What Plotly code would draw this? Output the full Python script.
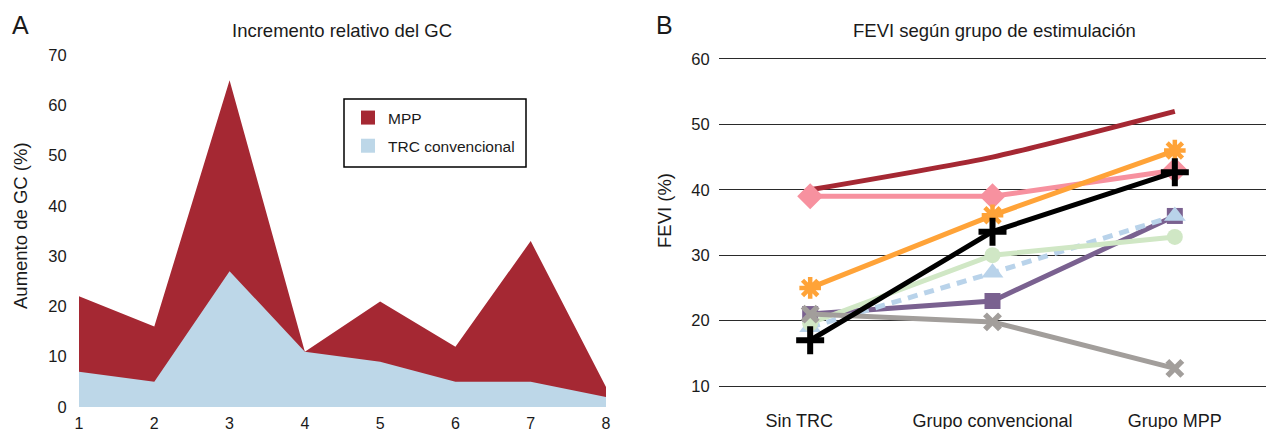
import plotly.graph_objects as go

# ---------------- Panel A data ----------------
patients = [1, 2, 3, 4, 5, 6, 7, 8]
mpp_increase = [22, 16, 65, 11, 21, 12, 33, 4]
trc_increase = [7, 5, 27, 11, 9, 5, 5, 2]

# ---------------- Panel B data ----------------
groups = ["Sin TRC", "Grupo convencional", "Grupo MPP"]
fevi_p1 = [40, 45, 52]        # dark red, no markers
fevi_p2 = [39, 39, 43]        # pink diamond
fevi_p3 = [21, 23, 36]        # purple square
fevi_p4 = [19, 27.3, 36]      # light blue triangle, dashed
fevi_p5 = [19.6, 30, 32.8]    # light green circle
fevi_p6 = [21, 19.8, 12.7]    # gray x
fevi_p7 = [25, 36.1, 46]      # orange asterisk
fevi_p8 = [17, 33.6, 42.7]    # black cross

W, H = 1266, 429
FONT = "Liberation Sans, Arial, sans-serif"
TXT = "#1a1a1a"

def px(x):
    return x / W

def py(y):
    return 1 - y / H

fig = go.Figure()

# Panel A areas (overlapping, not stacked)
fig.add_trace(go.Scatter(x=patients, y=mpp_increase, mode="lines", fill="tozeroy",
                         fillcolor="#A52833", line=dict(width=0, color="#A52833"),
                         showlegend=False, hoverinfo="skip", xaxis="x", yaxis="y"))
fig.add_trace(go.Scatter(x=patients, y=trc_increase, mode="lines", fill="tozeroy",
                         fillcolor="#BDD7E8", line=dict(width=0, color="#BDD7E8"),
                         showlegend=False, hoverinfo="skip", xaxis="x", yaxis="y"))
# legend entries
fig.add_trace(go.Scatter(x=[None], y=[None], mode="markers", name="MPP", legendgroup="a",
                         marker=dict(symbol="square", size=14, color="#A52833"),
                         xaxis="x", yaxis="y"))
fig.add_trace(go.Scatter(x=[None], y=[None], mode="markers", name="TRC convencional", legendgroup="b",
                         marker=dict(symbol="square", size=14, color="#BDD7E8"),
                         xaxis="x", yaxis="y"))

# Panel B lines
xpos = [0, 1, 2]
LW = 5
series = [
    (fevi_p1, "#A52833", None, "solid", "spline"),
    (fevi_p2, "#F7919F", dict(symbol="diamond", size=20), "solid", "linear"),
    (fevi_p3, "#7A6190", dict(symbol="square", size=16), "solid", "linear"),
    (fevi_p4, "#B9D3EA", dict(symbol="triangle-up", size=19), "10px,7px", "linear"),
    (fevi_p5, "#D0E7C5", dict(symbol="circle", size=16), "solid", "linear"),
    (fevi_p6, "#A29E9B", dict(symbol="x-thin-open", size=15, line=dict(width=5.5, color="#A29E9B")), "solid", "linear"),
    (fevi_p7, "#FFA338", dict(symbol="asterisk-open", size=18, line=dict(width=4.5, color="#FFA338")), "solid", "linear"),
    (fevi_p8, "#000000", dict(symbol="cross-thin-open", size=20, line=dict(width=6, color="#000000")), "solid", "linear"),
]
for vals, col, mk, dash, shape in series:
    if mk is None:
        fig.add_trace(go.Scatter(x=xpos, y=vals, mode="lines",
                                 line=dict(color=col, width=LW, dash=dash, shape=shape, smoothing=0.6),
                                 showlegend=False, hoverinfo="skip", xaxis="x2", yaxis="y2"))
    else:
        m = dict(color=col)
        m.update(mk)
        fig.add_trace(go.Scatter(x=xpos, y=vals, mode="lines+markers",
                                 line=dict(color=col, width=LW, dash=dash, shape=shape),
                                 marker=m, showlegend=False, hoverinfo="skip",
                                 xaxis="x2", yaxis="y2"))

annotations = [
    dict(text="A", x=px(20), y=py(25), font=dict(size=25)),
    dict(text="B", x=px(664), y=py(25), font=dict(size=25)),
    dict(text="Incremento relativo del GC", x=px(342), y=py(31), font=dict(size=18.5)),
    dict(text="FEVI según grupo de estimulación", x=px(994), y=py(31), font=dict(size=18.5)),
    dict(text="Aumento de GC (%)", x=px(20), y=py(226), textangle=-90, font=dict(size=18.5)),
    dict(text="FEVI (%)", x=px(664), y=py(211), textangle=-90, font=dict(size=18.5)),
]
for a in annotations:
    a.update(xref="paper", yref="paper", showarrow=False, xanchor="center", yanchor="middle")
    a["font"].update(family=FONT, color=TXT)

fig.update_layout(
    width=W, height=H,
    margin=dict(l=0, r=0, t=0, b=0),
    paper_bgcolor="white", plot_bgcolor="white",
    font=dict(family=FONT, size=16, color=TXT),
    annotations=annotations,
    shapes=[dict(type="rect", xref="paper", yref="paper",
                 x0=px(344), x1=px(526), y0=py(167), y1=py(99),
                 line=dict(color="black", width=1.5), fillcolor="rgba(0,0,0,0)")],
    legend=dict(x=px(348), y=py(101), xanchor="left", yanchor="top",
                bgcolor="rgba(0,0,0,0)", borderwidth=0, tracegroupgap=5,
                itemwidth=30, font=dict(size=15.5, family=FONT, color=TXT)),
    xaxis=dict(domain=[px(79), px(606)], range=[1, 8], tickvals=patients,
               showgrid=False, zeroline=False, showline=False,
               ticks="outside", ticklen=2, tickcolor="rgba(0,0,0,0)",
               tickfont=dict(size=16), anchor="y", automargin=False),
    yaxis=dict(domain=[py(407), py(55)], range=[0, 70], dtick=10,
               showgrid=False, zeroline=False, showline=False,
               ticks="outside", ticklen=8, tickcolor="rgba(0,0,0,0)",
               tickfont=dict(size=16.5), anchor="x", automargin=False),
    xaxis2=dict(domain=[px(719), 1.0], range=[-0.5, 2.5],
                tickvals=[-0.06, 1, 2], ticktext=groups,
                showgrid=False, zeroline=False, showline=False,
                ticks="outside", ticklen=5, tickcolor="rgba(0,0,0,0)",
                tickfont=dict(size=18), anchor="y2", automargin=False),
    yaxis2=dict(domain=[py(399.1), py(45.9)], range=[8, 62], tick0=10, dtick=10,
                showgrid=True, gridcolor="#2a2a2a", gridwidth=1.3,
                zeroline=False, showline=False,
                ticks="outside", ticklen=5, tickcolor="rgba(0,0,0,0)",
                tickfont=dict(size=16.5), anchor="x2", automargin=False),
)

fig.write_html("out.html", config={"displayModeBar": False},
               post_script="document.body.style.margin='0';document.body.style.overflow='hidden';")
